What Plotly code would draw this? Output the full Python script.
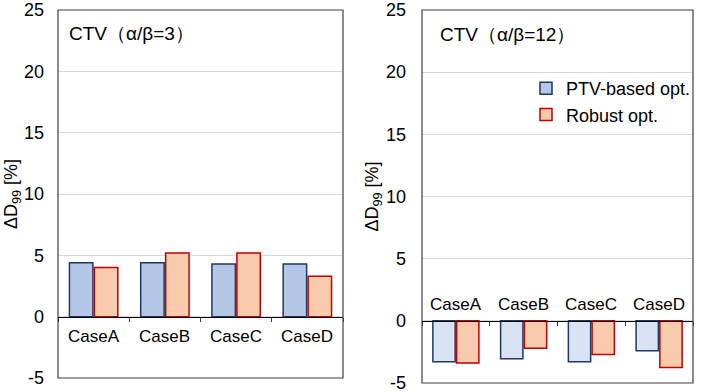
import plotly.graph_objects as go

categories = ["CaseA", "CaseB", "CaseC", "CaseD"]
ptv_ab3 = [4.4, 4.4, 4.3, 4.3]
robust_ab3 = [4.0, 5.2, 5.2, 3.3]
ptv_ab12 = [-3.3, -3.05, -3.3, -2.4]
robust_ab12 = [-3.4, -2.2, -2.7, -3.75]
panel_titles = ["CTV（α/β=3）", "CTV（α/β=12）"]
series_names = ["PTV-based opt.", "Robust opt."]
yticks = [-5, 0, 5, 10, 15, 20, 25]
ytick_text = ["-5", "0", "5", "10", "15", "20", "25"]

FONT = "Liberation Sans, Arial, sans-serif"
W, H = 709, 392

fig = go.Figure()

# Left panel
fig.add_trace(go.Bar(x=categories, y=ptv_ab3, name=series_names[0],
                     marker=dict(color="#b4c7e7", line=dict(color="#1f3864", width=1.5)),
                     xaxis="x", yaxis="y", showlegend=True))
fig.add_trace(go.Bar(x=categories, y=robust_ab3, name=series_names[1],
                     marker=dict(color="#f8cbad", line=dict(color="#c00000", width=1.5)),
                     xaxis="x", yaxis="y", showlegend=True))
# Right panel
fig.add_trace(go.Bar(x=categories, y=ptv_ab12, name=series_names[0],
                     marker=dict(color="#dae3f3", line=dict(color="#1f3864", width=1.5)),
                     xaxis="x2", yaxis="y2", showlegend=False))
fig.add_trace(go.Bar(x=categories, y=robust_ab12, name=series_names[1],
                     marker=dict(color="#f8cbad", line=dict(color="#c00000", width=1.5)),
                     xaxis="x2", yaxis="y2", showlegend=False))

def px_x(p):
    return p / W

def px_y(p):
    return 1 - p / H

L_dom = [px_x(58), px_x(343)]
R_dom = [px_x(422), px_x(693)]
L_ydom = [px_y(378), px_y(10)]
R_ydom = [px_y(383), px_y(10)]

def yaxis_common(standoff_label, title_standoff):
    return dict(range=[-5, 25], tickvals=yticks, ticktext=ytick_text, showgrid=True,
                gridcolor="#d9d9d9", gridwidth=1, zeroline=False, showline=False, ticks="",
                automargin=False,
                tickfont=dict(family=FONT, size=18, color="#000"),
                ticklabelstandoff=standoff_label, ticklabeloverflow="allow",
                title=dict(text="ΔD<sub>99</sub> [%]", font=dict(family=FONT, size=18, color="#000"),
                           standoff=title_standoff))

xaxis_common = dict(showticklabels=False, ticks="outside", tickson="boundaries", ticklen=4,
                    tickcolor="#404040", showline=True, linecolor="#000", linewidth=1.2,
                    showgrid=False, zeroline=False, anchor="free", automargin=False)

L_zero = L_ydom[0] + (L_ydom[1] - L_ydom[0]) * (5 / 30)
R_zero = R_ydom[0] + (R_ydom[1] - R_ydom[0]) * (5 / 30)

fig.update_layout(
    width=W, height=H,
    margin=dict(l=0, r=0, t=0, b=0, autoexpand=False),
    paper_bgcolor="white", plot_bgcolor="white",
    barmode="group", bargap=0.3, bargroupgap=0.06,
    font=dict(family=FONT, color="#000"),
    xaxis=dict(domain=L_dom, position=L_zero, **xaxis_common),
    yaxis=dict(domain=L_ydom, anchor="x", **yaxis_common(13, 0)),
    xaxis2=dict(domain=R_dom, position=R_zero, **xaxis_common),
    yaxis2=dict(domain=R_ydom, anchor="x2", **yaxis_common(15, 2)),
    legend=dict(x=px_x(526), y=px_y(70), xanchor="left", yanchor="top",
                font=dict(family=FONT, size=18, color="#000"),
                bgcolor="rgba(0,0,0,0)", tracegroupgap=0),
    showlegend=True,
)

shapes = []
annotations = []
for xa, ya in [("x", "y"), ("x2", "y2")]:
    shapes.append(dict(type="rect", xref=f"{xa} domain", yref=f"{ya} domain",
                       x0=0, x1=1, y0=0, y1=1, line=dict(color="#404040", width=1.2),
                       fillcolor="rgba(0,0,0,0)", layer="above"))

# panel titles
annotations.append(dict(text=panel_titles[0], xref="x domain", yref="y domain", x=0.03, y=0.935,
                        xanchor="left", yanchor="middle", showarrow=False,
                        font=dict(family=FONT, size=19, color="#000")))
annotations.append(dict(text=panel_titles[1], xref="x2 domain", yref="y2 domain", x=0.06, y=0.935,
                        xanchor="left", yanchor="middle", showarrow=False,
                        font=dict(family=FONT, size=19, color="#000")))

# category labels
for c in categories:
    annotations.append(dict(text=c, x=c, y=-1.6, xref="x", yref="y", showarrow=False,
                            font=dict(family=FONT, size=17, color="#000")))
    annotations.append(dict(text=c, x=c, y=1.35, xref="x2", yref="y2", showarrow=False,
                            font=dict(family=FONT, size=17, color="#000")))

fig.update_layout(shapes=shapes, annotations=annotations)

fig.write_html("out.html", config={"displayModeBar": False},
               post_script="document.body.style.margin='0';document.body.style.overflow='hidden';")
